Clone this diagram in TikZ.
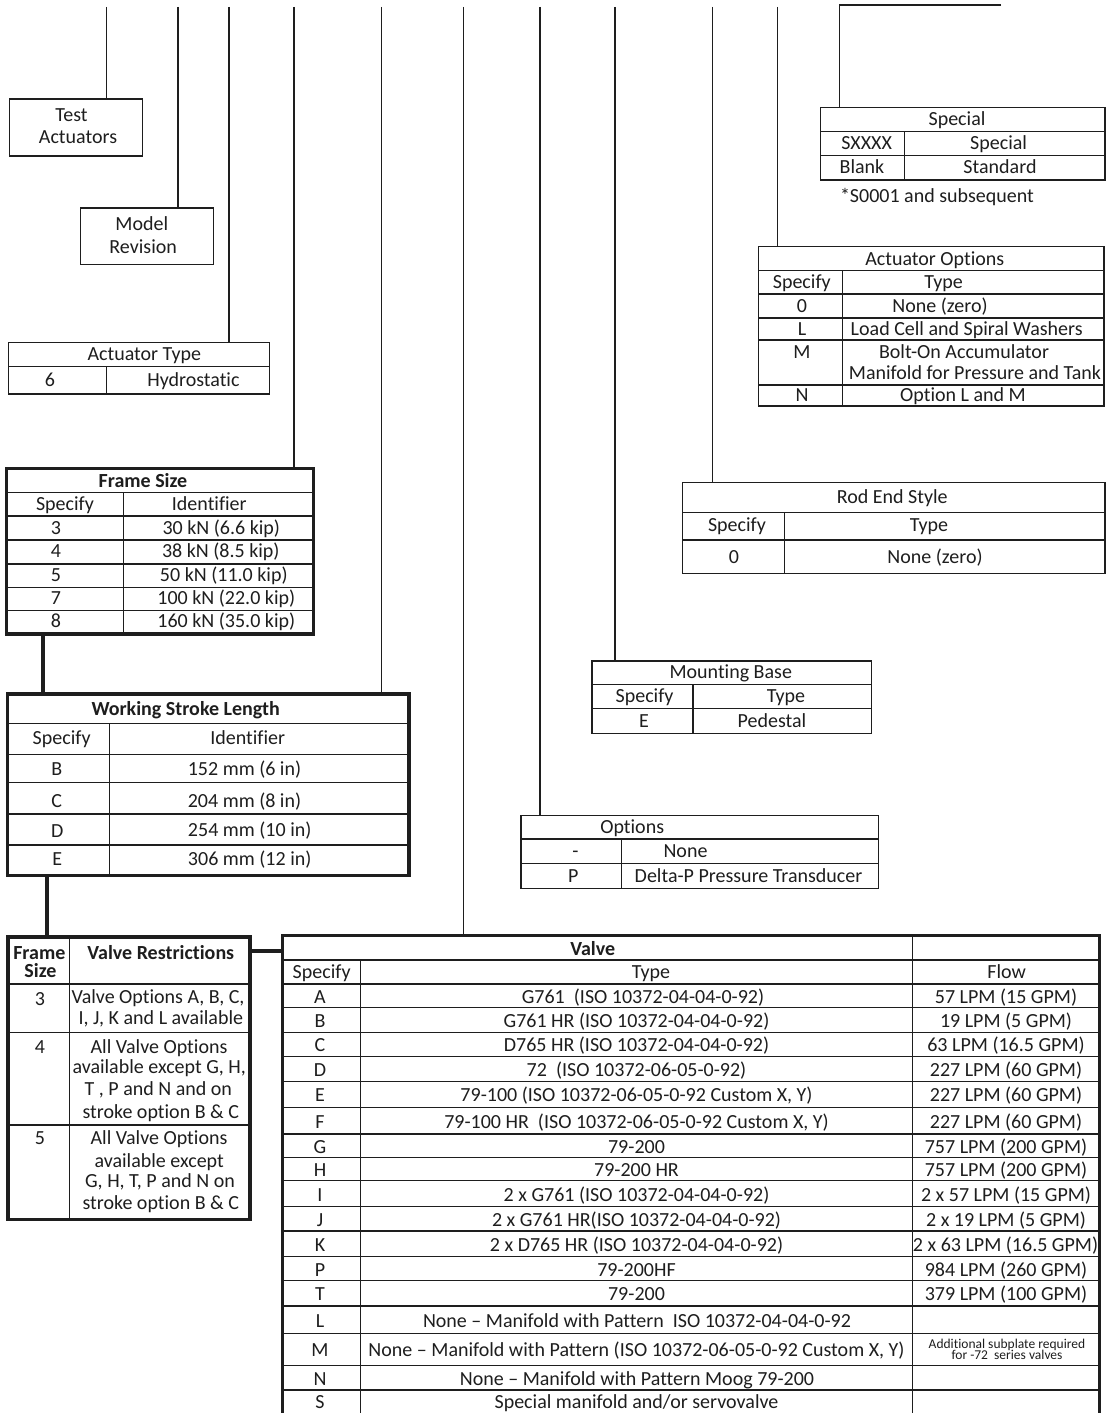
\documentclass[tikz,border=0pt]{standalone}
\usepackage{fontspec}
\setmainfont{Carlito}[Ligatures={TeX,NoCommon}]
\definecolor{ink}{RGB}{30,30,30}
\newcounter{tn}
\newcommand\T[3]{\stepcounter{tn}\node[txt] (t\arabic{tn}) at (#1,#2) {#3};}
\newcommand\TL[3]{\stepcounter{tn}\node[txt,anchor=west] (t\arabic{tn}) at (#1,#2) {#3};}
\newcommand\TS[3]{\stepcounter{tn}\node[stxt] (t\arabic{tn}) at (#1,#2) {#3};}
\newcommand\B[6]{\node[#6, minimum width=#4-#2, minimum height=#5-#3] (#1) at (#2,#3) {};}
\begin{document}
\begin{tikzpicture}[x=1pt,y=-1pt,
 thinl/.style={draw=ink,line width=1.2pt},
 thickl/.style={draw=ink,line width=3.4pt},
 conn/.style={draw=ink,line width=1.2pt},
 tconn/.style={draw=ink,line width=4.2pt},
 plainbox/.style={thinl,rectangle,inner sep=0pt,outer sep=0pt,anchor=north west},
 heavybox/.style={thickl,rectangle,inner sep=0pt,outer sep=0pt,anchor=north west},
 openbox/.style={rectangle,inner sep=0pt,outer sep=0pt,anchor=north west},
 txt/.style={inner sep=0pt,outer sep=0pt,text height=12.8pt,text depth=0pt,font=\fontsize{20}{22}\selectfont,text=ink},
 stxt/.style={inner sep=0pt,outer sep=0pt,text height=8.6pt,text depth=0pt,font=\fontsize{13.5}{14}\selectfont,text=ink}]
\fill[white] (0,0) rectangle (1106,1413);
\useasboundingbox (0,0) rectangle (1106,1413);

% ---------- boxes ----------
\B{ta}{9.3}{99}{142.1}{156}{plainbox}
\B{mr}{80.7}{208}{213.6}{264.3}{plainbox}
\B{at}{8.2}{342.3}{269.6}{394}{plainbox}
\B{sp}{820.2}{107.7}{1105}{180}{plainbox}
\B{ao}{758.5}{246.7}{1104}{406}{plainbox}
\B{rs}{682.4}{482.7}{1105}{573.3}{plainbox}
\B{mb}{592}{661}{871.5}{733.7}{plainbox}
\B{op}{520.9}{815.7}{878.4}{888.3}{plainbox}
\B{fs}{6.7}{468.3}{313.3}{634}{heavybox}
\B{ws}{7.7}{694}{409}{875.7}{heavybox}
\B{vr}{8}{937}{250}{1219.5}{heavybox}
\B{vt}{282.5}{935.7}{1099.5}{1416}{openbox}

% ---------- inner lines ----------
\draw[thinl] (8.2,366.7) -- (269.6,366.7) (106.4,366.7) -- (106.4,394);
\draw[thinl] (820.2,131.3) -- (1105,131.3) (820.2,155.3) -- (1105,155.3) (904.3,131.3) -- (904.3,180);
\foreach \y in {270.7,294,318,340,385} \draw[thinl] (758.5,\y) -- (1104,\y);
\draw[thinl] (842.6,270.7) -- (842.6,406);
\draw[thinl] (682.4,512.7) -- (1105,512.7) (682.4,540) -- (1105,540) (784.1,512.7) -- (784.1,573.3);
\draw[thinl] (592,684.3) -- (871.5,684.3) (592,708.7) -- (871.5,708.7) (692.9,684.3) -- (692.9,733.7);
\draw[thinl] (520.9,839) -- (878.4,839) (520.9,863.3) -- (878.4,863.3) (621.8,839) -- (621.8,888.3);
\foreach \y in {492.3,516,540,564,587.3,610.3} \draw[thinl] (6.7,\y) -- (313.3,\y);
\draw[thinl] (123.3,492.3) -- (123.3,634);
\foreach \y in {723.3,754.7,782.7,814,845} \draw[thinl] (7.7,\y) -- (409,\y);
\draw[thinl] (109.3,723.3) -- (109.3,875.7);
\foreach \y in {984,1032.3,1125} \draw[thinl] (8,\y) -- (250,\y);
\draw[thinl] (69.3,937) -- (69.3,1219.5);
\foreach \y in {960,984,1007.7,1032.3,1056.7,1081.7,1107.7,1134,1157.7,1180.7,1206.7,1231,1256.7,1280.7,1306,1333.3,1365.7,1390}
  \draw[thinl] (282.5,\y) -- (1099.5,\y);
\draw[thinl] (360.3,960) -- (360.3,1416) (912.7,935.7) -- (912.7,1416);
\draw[thickl] (vt.south west) -- (vt.north west) -- (vt.north east) -- (vt.south east);

% ---------- connectors ----------
\coordinate (c1) at (106.4,7);
\coordinate (c2) at (177.9,7);
\coordinate (c3) at (229,7);
\coordinate (c4) at (294,7);
\coordinate (c5) at (381.8,7);
\coordinate (c6) at (463.6,7);
\coordinate (c7) at (540,7);
\coordinate (c8) at (614.9,7);
\coordinate (c9) at (712.8,7);
\coordinate (c10) at (777.7,7);
\coordinate (s0) at (1001,5);
\coordinate (s1) at (839.4,5);
\draw[conn] (c1) -- (c1 |- ta.north);
\draw[conn] (c2) -- (c2 |- mr.north);
\draw[conn] (c3) -- (c3 |- at.north);
\draw[conn] (c4) -- (c4 |- fs.north);
\draw[conn] (c5) -- (c5 |- ws.north);
\draw[conn] (c6) -- (c6 |- vt.north);
\draw[conn] (c7) -- (c7 |- op.north);
\draw[conn] (c8) -- (c8 |- mb.north);
\draw[conn] (c9) -- (c9 |- rs.north);
\draw[conn] (c10) -- (c10 |- ao.north);
\draw[conn] (s0) -- (s1) -- (s1 |- sp.north);
\coordinate (k1) at (42.7,0);
\coordinate (k2) at (47,0);
\coordinate (k3) at (0,950.7);
\draw[tconn] (k1 |- fs.south) -- (k1 |- ws.north);
\draw[tconn] (k2 |- ws.south) -- (k2 |- vr.north);
\draw[tconn] (vr.east |- k3) -- (vt.west |- k3);

% ---------- texts ----------
\T{71.5}{115.5}{Test} \T{78}{137}{Actuators}
\T{141.8}{224.5}{Model} \T{143.2}{247}{Revision}
\T{144.3}{354}{Actuator Type} \T{50}{380.5}{6} \T{193.4}{380.5}{Hydrostatic}

\T{957}{119.5}{Special} \T{866.7}{143.5}{SXXXX} \T{998.6}{143.5}{Special}
\T{862}{167.5}{Blank} \T{1000}{167.5}{Standard}
\TL{840}{196}{*S0001 and subsequent}

\T{934.8}{258.7}{Actuator Options}
\T{801.8}{282.3}{Specify} \T{943.6}{282.3}{Type}
\T{802}{306}{0} \T{940}{306}{None (zero)}
\T{802}{329}{L} \T{966.7}{329}{Load Cell and Spiral Washers}
\T{802}{351.7}{M} \T{964}{351.7}{Bolt-On Accumulator} \T{975}{373.5}{Manifold for Pressure and Tank}
\T{802}{395.5}{N} \T{963}{395.5}{Option L and M}

\T{892.3}{497}{Rod End Style}
\T{737}{525}{Specify} \T{929}{525}{Type}
\T{734}{557}{0} \T{935}{557}{None (zero)}

\T{730.8}{672}{Mounting Base}
\T{644.6}{696}{Specify} \T{786}{696}{Type}
\T{644}{721.5}{E} \T{772}{721.5}{Pedestal}

\T{632.2}{827}{Options}
\T{575.4}{851}{-} \T{685.5}{851}{None}
\T{573.4}{876}{P} \T{748.5}{876}{Delta-P Pressure Transducer}

\T{143}{481.5}{\bfseries Frame Size}
\T{65}{504}{Specify} \T{209.3}{504}{Identifier}
\T{56}{528}{3} \T{221.3}{528}{30 kN (6.6 kip)}
\T{56}{551.5}{4} \T{220.8}{551.5}{38 kN (8.5 kip)}
\T{56}{575}{5} \T{223.8}{575}{50 kN (11.0 kip)}
\T{56}{598}{7} \T{226.3}{598}{100 kN (22.0 kip)}
\T{56}{621.5}{8} \T{226.3}{621.5}{160 kN (35.0 kip)}

\T{185.7}{708.8}{\bfseries Working Stroke Length}
\T{61.7}{738.5}{Specify} \T{247.7}{738.5}{Identifier}
\T{56.7}{769.5}{B} \T{244.5}{769}{152 mm (6 in)}
\T{56.7}{801.5}{C} \T{244.5}{801}{204 mm (8 in)}
\T{57.3}{830.8}{D} \T{249.7}{830.5}{254 mm (10 in)}
\T{57.3}{859.5}{E} \T{249.7}{859.3}{306 mm (12 in)}

\T{39.3}{953.3}{\bfseries Frame} \T{40.5}{970.7}{\bfseries Size}
\T{160.8}{953}{\bfseries Valve Restrictions}
\T{40}{999}{3} \T{158}{997.3}{Valve Options A, B, C,} \T{160.8}{1018.3}{I, J, K and L available}
\T{40}{1047.3}{4} \T{159}{1047}{All Valve Options} \T{159.2}{1067.3}{available except G, H,}
\T{158.3}{1089.3}{T , P and N and on} \T{160.8}{1111.7}{stroke option B \& C}
\T{40}{1138.5}{5} \T{159}{1138.3}{All Valve Options} \T{159.2}{1160.7}{available except}
\T{160}{1181.3}{G, H, T, P and N on} \T{160.8}{1203.3}{stroke option B \& C}

\T{592.7}{949}{\bfseries Valve}
\T{321.7}{972}{Specify} \T{651}{972}{Type} \T{1006.7}{972}{Flow}
\T{320}{997}{A} \T{643}{997}{G761~ (ISO 10372-04-04-0-92)} \T{1006}{997}{57 LPM (15 GPM)}
\T{320}{1021}{B} \T{636.5}{1021}{G761 HR (ISO 10372-04-04-0-92)} \T{1006}{1021}{19 LPM (5 GPM)}
\T{320}{1045.5}{C} \T{636.5}{1045.5}{D765 HR (ISO 10372-04-04-0-92)} \T{1006}{1045.5}{63 LPM (16.5 GPM)}
\T{320}{1070}{D} \T{636.5}{1070}{72~ (ISO 10372-06-05-0-92)} \T{1006}{1070}{227 LPM (60 GPM)}
\T{320}{1095.5}{E} \T{636.5}{1095.5}{79-100 (ISO 10372-06-05-0-92 Custom X, Y)} \T{1006}{1095.5}{227 LPM (60 GPM)}
\T{320}{1122}{F} \T{636.5}{1122}{79-100 HR~ (ISO 10372-06-05-0-92 Custom X, Y)} \T{1006}{1122}{227 LPM (60 GPM)}
\T{320}{1147}{G} \T{636.5}{1147}{79-200} \T{1006}{1147}{757 LPM (200 GPM)}
\T{320}{1170.5}{H} \T{636.5}{1170.5}{79-200 HR} \T{1006}{1170.5}{757 LPM (200 GPM)}
\T{320}{1195}{I} \T{636.5}{1195}{2 x G761 (ISO 10372-04-04-0-92)} \T{1006}{1195}{2 x 57 LPM (15 GPM)}
\T{320}{1220}{J} \T{636.5}{1220}{2 x G761 HR(ISO 10372-04-04-0-92)} \T{1006}{1220}{2 x 19 LPM (5 GPM)}
\T{320}{1245}{K} \T{636.5}{1245}{2 x D765 HR (ISO 10372-04-04-0-92)} \T{1005.5}{1245}{2 x 63 LPM (16.5 GPM)}
\T{320}{1270}{P} \T{636.5}{1270}{79-200HF} \T{1006}{1270}{984 LPM (260 GPM)}
\T{320}{1294.5}{T} \T{636.5}{1294.5}{79-200} \T{1006}{1294.5}{379 LPM (100 GPM)}
\T{320}{1321}{L} \T{637}{1321}{None – Manifold with Pattern~ ISO 10372-04-04-0-92}
\T{320}{1350.5}{M} \T{636.5}{1350.5}{None – Manifold with Pattern (ISO 10372-06-05-0-92 Custom X, Y)}
\TS{1007}{1344}{Additional subplate required} \TS{1007}{1355.5}{for -72~ series valves}
\T{320}{1379}{N} \T{637}{1379}{None – Manifold with Pattern Moog 79-200}
\T{320}{1402.5}{S} \T{636.5}{1402.5}{Special manifold and/or servovalve}
\end{tikzpicture}
\end{document}
